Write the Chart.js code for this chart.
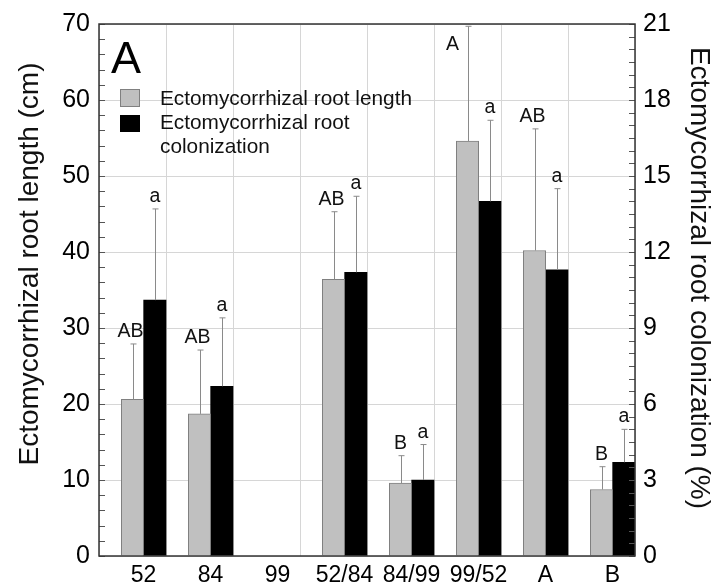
<!DOCTYPE html>
<html>
<head>
<meta charset="utf-8">
<script src="https://cdn.jsdelivr.net/npm/chart.js@4.4.1/dist/chart.umd.min.js"></script>
<style>
  html, body { margin: 0; padding: 0; background: #fff; }
</style>
</head>
<body>
<canvas id="chart" width="717" height="588"></canvas>
<script>
// values
const categories = ['52', '84', '99', '52/84', '84/99', '99/52', 'A', 'B'];
const rootLength = [20.6, 18.7, null, 36.4, 9.6, 54.6, 40.2, 8.75];          // cm
const rootLengthErr = [7.3, 8.4, null, 8.9, 3.6, 15.1, 16.0, 3.0];
const colonization = [10.1, 6.7, null, 11.2, 3.0, 14.0, 11.3, 3.7];          // %
const colonizationErr = [3.6, 2.7, null, 3.0, 1.4, 3.2, 3.2, 1.3];
const lengthLetters = ['AB', 'AB', '', 'AB', 'B', 'A', 'AB', 'B'];
const colonizationLetters = ['a', 'a', '', 'a', 'a', 'a', 'a', 'a'];

const FONT = '"Liberation Sans", Arial, Helvetica, sans-serif';
const GRID = '#d6d6d6';

// frame + inward tick marks on both y axes
const framePlugin = {
  id: 'frame',
  afterDraw(chart) {
    const { ctx, chartArea: a, scales } = chart;
    ctx.save();
    ctx.strokeStyle = '#555';
    ctx.lineWidth = 1;
    scales.y.ticks.forEach(t => {
      const py = Math.round(scales.y.getPixelForValue(t.value)) + 0.5;
      ctx.beginPath(); ctx.moveTo(a.left, py); ctx.lineTo(a.left + 6, py); ctx.stroke();
    });
    scales.y2.ticks.forEach(t => {
      const py = Math.round(scales.y2.getPixelForValue(t.value)) + 0.5;
      ctx.beginPath(); ctx.moveTo(a.right, py); ctx.lineTo(a.right - 6, py); ctx.stroke();
    });
    ctx.strokeStyle = '#333';
    ctx.lineWidth = 1.5;
    ctx.strokeRect(a.left, a.top, a.right - a.left, a.bottom - a.top);
    ctx.restore();
  }
};

// upward error bars and significance letters
const errorPlugin = {
  id: 'errors',
  afterDatasetsDraw(chart) {
    const { ctx, chartArea: a } = chart;
    ctx.save();
    chart.data.datasets.forEach((ds, i) => {
      if (!ds.errors) return;
      const meta = chart.getDatasetMeta(i);
      const scale = chart.scales[ds.yAxisID];
      ds.data.forEach((v, j) => {
        if (v == null) return;
        const bar = meta.data[j];
        const x = Math.round(bar.x) + 0.5;
        const yt = scale.getPixelForValue(v + ds.errors[j]);
        ctx.strokeStyle = '#8a8a8a';
        ctx.lineWidth = 1;
        ctx.beginPath();
        ctx.moveTo(x, bar.y); ctx.lineTo(x, yt);
        ctx.moveTo(x - 3, yt); ctx.lineTo(x + 3, yt);
        ctx.stroke();
        const txt = ds.letters[j];
        if (!txt) return;
        ctx.fillStyle = '#111';
        ctx.font = '19.5px ' + FONT;
        ctx.textAlign = 'center';
        if (yt - 26 < a.top) {
          ctx.textBaseline = 'middle';
          ctx.fillText(txt, bar.x - 15, a.top + 21);
        } else {
          ctx.textBaseline = 'alphabetic';
          ctx.fillText(txt, bar.x - (txt.length > 1 ? 2 : 0), yt - 7);
        }
      });
    });
    ctx.restore();
  }
};

// panel letter, legend and axis titles
const textPlugin = {
  id: 'texts',
  afterDraw(chart) {
    const { ctx, chartArea: a } = chart;
    const ds = chart.data.datasets;
    ctx.save();
    ctx.fillStyle = '#000';
    ctx.textAlign = 'left';
    ctx.textBaseline = 'alphabetic';
    ctx.font = '45px ' + FONT;
    ctx.fillText('A', a.left + 12, a.top + 49);

    // legend
    const lx = a.left + 21, ly = a.top + 65;
    ctx.fillStyle = ds[1].backgroundColor;
    ctx.fillRect(lx, ly, 20, 18);
    ctx.strokeStyle = ds[1].borderColor;
    ctx.lineWidth = 1;
    ctx.strokeRect(lx + 0.5, ly + 0.5, 19, 17);
    ctx.fillStyle = ds[2].backgroundColor;
    ctx.fillRect(lx, ly + 26, 20, 17);
    ctx.fillStyle = '#111';
    ctx.font = '20.8px ' + FONT;
    const lines = [];
    [ds[1].label, ds[2].label].forEach(lab => {
      let cur = '';
      lab.split(' ').forEach(w => {
        const test = cur ? cur + ' ' + w : w;
        if (ctx.measureText(test).width > 268 && cur) { lines.push(cur); cur = w; }
        else cur = test;
      });
      lines.push(cur);
    });
    lines.forEach((l, n) => ctx.fillText(l, lx + 40, ly + 16 + n * 24));

    // axis titles
    ctx.font = '28px ' + FONT;
    ctx.textAlign = 'center';
    ctx.textBaseline = 'middle';
    ctx.save();
    ctx.translate(30, 264);
    ctx.rotate(-Math.PI / 2);
    ctx.fillText('Ectomycorrhizal root length (cm)', 0, 0);
    ctx.restore();
    ctx.save();
    ctx.translate(699, 278);
    ctx.rotate(Math.PI / 2);
    ctx.fillText('Ectomycorrhizal root colonization (%)', 0, 0);
    ctx.restore();
    ctx.restore();
  }
};

new Chart(document.getElementById('chart'), {
  type: 'bar',
  data: {
    labels: categories,
    datasets: [
      // empty slot so each pair sits on the right part of its band
      { label: '', data: categories.map(() => null), yAxisID: 'y' },
      {
        label: 'Ectomycorrhizal root length',
        data: rootLength,
        errors: rootLengthErr,
        letters: lengthLetters,
        backgroundColor: '#c0c0c0',
        borderColor: '#808080',
        borderWidth: 1,
        yAxisID: 'y'
      },
      {
        label: 'Ectomycorrhizal root colonization',
        data: colonization,
        errors: colonizationErr,
        letters: colonizationLetters,
        backgroundColor: '#000000',
        borderColor: '#000000',
        borderWidth: 0,
        yAxisID: 'y2'
      }
    ]
  },
  options: {
    responsive: false,
    animation: false,
    layout: { padding: { top: 20, left: 0, right: 0, bottom: 0 } },
    datasets: { bar: { categoryPercentage: 1, barPercentage: 1 } },
    plugins: { legend: { display: false }, tooltip: { enabled: false } },
    scales: {
      x: {
        grid: { color: GRID, offset: true, drawTicks: false },
        border: { display: false },
        ticks: { color: '#000', font: { family: FONT, size: 23 }, padding: 6, labelOffset: 11, maxRotation: 0, autoSkip: false },
        afterFit: s => { s.height = 32; }
      },
      y: {
        position: 'left',
        min: 0, max: 70,
        grid: { color: c => (c.tick && c.tick.value % 10 === 0) ? GRID : 'rgba(0,0,0,0)', drawTicks: false },
        border: { display: false },
        ticks: { stepSize: 2, autoSkip: false, color: '#000', font: { family: FONT, size: 25 }, padding: 9,
                 callback: v => v % 10 === 0 ? v : '' },
        afterFit: s => { s.width = 99; }
      },
      y2: {
        position: 'right',
        min: 0, max: 21,
        grid: { drawOnChartArea: false, drawTicks: false },
        border: { display: false },
        ticks: { stepSize: 0.5, autoSkip: false, color: '#000', font: { family: FONT, size: 25 }, padding: 8,
                 callback: v => v % 3 === 0 ? v : '' },
        afterFit: s => { s.width = 82; }
      }
    }
  },
  plugins: [errorPlugin, framePlugin, textPlugin]
});
</script>
</body>
</html>
